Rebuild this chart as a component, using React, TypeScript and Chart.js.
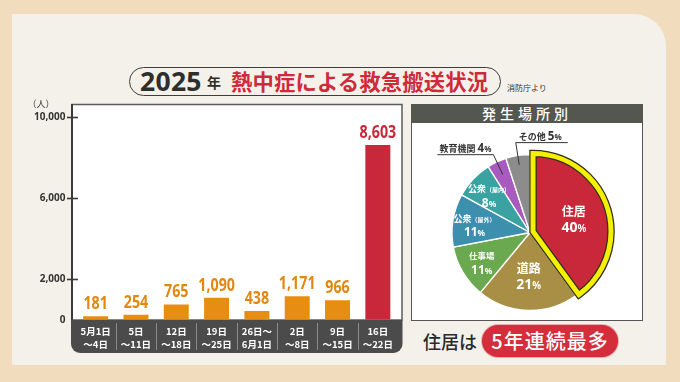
import React, { useEffect, useRef } from 'react';
import { Chart, registerables } from 'chart.js';

Chart.register(...registerables);

const JP = '"Noto Sans CJK JP", "Noto Sans", sans-serif';
const NUM = '"Noto Sans", "Noto Sans CJK JP", sans-serif';

// ---- data ----
const weekLabels: string[][] = [
  ['5月1日', '～4日'],
  ['5日', '～11日'],
  ['12日', '～18日'],
  ['19日', '～25日'],
  ['26日～', '6月1日'],
  ['2日', '～8日'],
  ['9日', '～15日'],
  ['16日', '～22日'],
];
const caseCounts = [181, 254, 765, 1090, 438, 1171, 966, 8603];
const yTickValues = [0, 2000, 6000, 10000];
const yMax = 10600;

const placeLabels = ['住居', '道路', '仕事場', '公衆(屋外)', '公衆(屋内)', '教育機関', 'その他'];
const placeShares = [40, 21, 11, 11, 8, 4, 5];

// ---- styles ----
const ORANGE = '#e78e12';
const ORANGE_TXT = '#e2870f';
const RED = '#c9283b';
const RED_TXT = '#c8283a';
const PIE_COLORS = ['#c9283b', '#a88f45', '#6aa94f', '#3d8fae', '#3aa3a2', '#a85bbf', '#8c8c8c'];

const fmt = (v: number) => String(v).replace(/\B(?=(\d{3})+(?!\d))/g, ',');

function drawRich(ctx: CanvasRenderingContext2D, parts: [string, number, string][], cx: number, y: number, align: 'center' | 'left' | 'right' = 'center') {
  let total = 0;
  const widths = parts.map(([t, s, f]) => {
    ctx.font = `bold ${s}px ${f}`;
    const w = ctx.measureText(t).width;
    total += w;
    return w;
  });
  let x = align === 'center' ? cx - total / 2 : align === 'right' ? cx - total : cx;
  ctx.textAlign = 'left';
  ctx.textBaseline = 'alphabetic';
  parts.forEach(([t, s, f], i) => {
    ctx.font = `bold ${s}px ${f}`;
    ctx.fillText(t, x, y);
    x += widths[i];
  });
}

const barDeco = {
  id: 'barDeco',
  beforeDraw(chart: any) {
    const { ctx, chartArea: a, scales } = chart;
    const x = scales.x;
    const L = a.left - 3.5;
    const R = a.right + 4;
    ctx.save();
    ctx.fillStyle = '#ffffff';
    ctx.fillRect(L, a.top, R - L, a.bottom - a.top);
    ctx.strokeStyle = '#5c5c5c';
    ctx.lineWidth = 1.5;
    ctx.strokeRect(L, a.top, R - L, a.bottom - a.top);
    // label band
    const bt = a.bottom;
    const bb = a.bottom + 33;
    const r = 9;
    ctx.fillStyle = '#4b4b4b';
    ctx.beginPath();
    ctx.moveTo(L - 1, bt);
    ctx.lineTo(R + 0.5, bt);
    ctx.lineTo(R + 0.5, bb - r);
    ctx.arcTo(R + 0.5, bb, R + 0.5 - r, bb, r);
    ctx.lineTo(L - 1 + r, bb);
    ctx.arcTo(L - 1, bb, L - 1, bb - r, r);
    ctx.closePath();
    ctx.fill();
    ctx.strokeStyle = '#8a8a8a';
    ctx.lineWidth = 1;
    for (let i = 0; i < caseCounts.length - 1; i++) {
      const sx = Math.round((x.getPixelForValue(i) + x.getPixelForValue(i + 1)) / 2) + 0.5;
      ctx.beginPath();
      ctx.moveTo(sx, bt + 3);
      ctx.lineTo(sx, bb - 3);
      ctx.stroke();
    }
    ctx.restore();
  },
  afterDatasetsDraw(chart: any) {
    const { ctx, chartArea: a, scales } = chart;
    const y = scales.y;
    const L = a.left - 3.5;
    ctx.save();
    // axis line
    ctx.strokeStyle = '#3a3a3a';
    ctx.lineWidth = 2;
    ctx.beginPath();
    ctx.moveTo(L, a.top - 0.5);
    ctx.lineTo(L, a.bottom);
    ctx.stroke();
    // tick marks crossing the axis
    ctx.lineWidth = 1.6;
    yTickValues.forEach((v) => {
      if (v === 0) return;
      const py = Math.round(y.getPixelForValue(v)) + 0.5;
      ctx.beginPath();
      ctx.moveTo(L - 5, py);
      ctx.lineTo(L + 6, py);
      ctx.stroke();
    });
    // unit
    ctx.fillStyle = '#333';
    ctx.font = `9px ${JP}`;
    ctx.textAlign = 'center';
    ctx.textBaseline = 'middle';
    ctx.fillText('（人）', L - 31, y.getPixelForValue(10000) - 13);
    // value labels
    const meta = chart.getDatasetMeta(0);
    const last = caseCounts.length - 1;
    meta.data.forEach((bar: any, i: number) => {
      ctx.save();
      ctx.fillStyle = i === last ? RED_TXT : ORANGE_TXT;
      ctx.font = `bold 17px ${NUM}`;
      ctx.textAlign = 'center';
      ctx.textBaseline = 'alphabetic';
      ctx.translate(bar.x, bar.y - 7);
      ctx.scale(0.84, 1);
      ctx.fillText(fmt(caseCounts[i]), 0, 0);
      ctx.restore();
    });
    ctx.restore();
  },
};

const RED_OFFSET = 9;

const pieDeco = {
  id: 'pieDeco',
  afterDatasetsDraw(chart: any) {
    const { ctx } = chart;
    const meta = chart.getDatasetMeta(0);
    const arcs = meta.data;
    ctx.save();
    // highlighted slice outline
    const p0 = arcs[0].getProps(['x', 'y', 'startAngle', 'endAngle', 'outerRadius'], true);
    const mid0 = (p0.startAngle + p0.endAngle) / 2;
    const fix = 1 - Math.sin(Math.min(Math.PI, p0.endAngle - p0.startAngle));
    const t = (RED_OFFSET / 4) * (1 + fix);
    const ox = Math.cos(mid0) * t;
    const oy = Math.sin(mid0) * t;
    ctx.beginPath();
    ctx.moveTo(p0.x + ox, p0.y + oy);
    ctx.arc(p0.x + ox, p0.y + oy, p0.outerRadius, p0.startAngle, p0.endAngle);
    ctx.closePath();
    ctx.lineJoin = 'miter';
    ctx.strokeStyle = '#2f2f1c';
    ctx.lineWidth = 7.5;
    ctx.stroke();
    ctx.strokeStyle = '#f5ef00';
    ctx.lineWidth = 5;
    ctx.stroke();

    // labels
    arcs.forEach((arc: any, i: number) => {
      const p = arc.getProps(['x', 'y', 'startAngle', 'endAngle', 'outerRadius'], true);
      const mid = (p.startAngle + p.endAngle) / 2;
      const R = p.outerRadius;
      const share = placeShares[i];
      const label = placeLabels[i];
      const m = label.match(/^(.*?)(\(.*\))?$/) as RegExpMatchArray;
      const main = m[1];
      const sub = m[2] || '';
      if (share >= 6) {
        const big = share >= 20;
        const rr = R * (big ? 0.55 : 0.72);
        let cx = p.x + Math.cos(mid) * rr;
        let cy = p.y + Math.sin(mid) * rr;
        if (i === 0) { cx += ox; cy += oy; }
        ctx.fillStyle = '#ffffff';
        const nameSize = big ? 12 : sub ? 9 : 8.5;
        const nameParts: [string, number, string][] = [[main, nameSize, JP]];
        if (sub) nameParts.push([sub.replace('(', '（').replace(')', '）'), 6, JP]);
        drawRich(ctx, nameParts, cx, cy - 2);
        const numSize = big ? 14 : 12;
        drawRich(ctx, [[String(share), numSize, NUM], ['%', numSize * 0.7, NUM]], cx, cy + (big ? 14 : 12.5));
      } else {
        ctx.strokeStyle = '#333';
        ctx.fillStyle = '#333';
        ctx.lineWidth = 1;
        const left = Math.cos(mid) < -0.3;
        const r1 = R * (left ? 0.82 : 0.88);
        const r2 = R + (left ? 8 : 13);
        const x1 = p.x + Math.cos(mid) * r1;
        const y1 = p.y + Math.sin(mid) * r1;
        const x2 = p.x + Math.cos(mid) * r2;
        const y2 = p.y + Math.sin(mid) * r2;
        const len = left ? 56 : 52;
        const x3 = left ? x2 - len : x2 + len;
        ctx.beginPath();
        ctx.moveTo(x1, y1);
        ctx.lineTo(x2, y2);
        ctx.lineTo(x3, y2);
        ctx.stroke();
        const parts: [string, number, string][] = [[main + ' ', 9, JP], [String(share), 11.5, NUM], ['%', 8, NUM]];
        if (left) drawRich(ctx, parts, x2 - 2, y2 - 3, 'right');
        else drawRich(ctx, parts, x2 + 3, y2 - 3, 'left');
      }
    });
    ctx.restore();
  },
};

export default function App() {
  const barRef = useRef<HTMLCanvasElement>(null);
  const pieRef = useRef<HTMLCanvasElement>(null);

  useEffect(() => {
    const last = caseCounts.length - 1;
    const bar = new Chart(barRef.current as HTMLCanvasElement, {
      type: 'bar',
      data: {
        labels: weekLabels,
        datasets: [
          {
            data: caseCounts,
            backgroundColor: caseCounts.map((_, i) => (i === last ? RED : ORANGE)),
            barPercentage: 0.62,
            categoryPercentage: 1,
          },
        ],
      },
      options: {
        animation: false,
        responsive: false,
        maintainAspectRatio: false,
        layout: { padding: { top: 8.5, right: 12, bottom: 7, left: 0 } },
        plugins: { legend: { display: false }, tooltip: { enabled: false } },
        scales: {
          x: {
            grid: { display: false, drawTicks: false },
            border: { display: false },
            ticks: {
              color: '#ffffff',
              font: { family: JP, size: 9.5, weight: 'bold', lineHeight: 1.38 },
              padding: 5,
              maxRotation: 0,
              minRotation: 0,
              autoSkip: false,
            },
            afterFit: (s: any) => { s.height = 33; },
          },
          y: {
            min: 0,
            max: yMax,
            grid: { display: true, drawOnChartArea: false, drawTicks: true, tickLength: 8, color: 'rgba(0,0,0,0)' },
            border: { display: false },
            ticks: {
              color: '#333333',
              font: { family: NUM, size: 10, weight: 'bold' },
              padding: 2,
              callback: (v: any) => fmt(Number(v)),
            },
            afterBuildTicks: (s: any) => { s.ticks = yTickValues.map((v) => ({ value: v })); },
            afterFit: (s: any) => { s.width = 75.5; },
          },
        },
      } as any,
      plugins: [barDeco],
    });

    const pie = new Chart(pieRef.current as HTMLCanvasElement, {
      type: 'pie',
      data: {
        labels: placeLabels,
        datasets: [
          {
            data: placeShares,
            backgroundColor: PIE_COLORS,
            borderColor: placeShares.map((_, i) => (i === 0 ? 'rgba(0,0,0,0)' : '#ffffff')),
            borderWidth: placeShares.map((_, i) => (i === 0 ? 0 : 1.3)),
            offset: placeShares.map((_, i) => (i === 0 ? RED_OFFSET : 0)),
            hoverOffset: 0,
            radius: 78,
            clip: false,
          } as any,
        ],
      },
      options: {
        animation: false,
        responsive: false,
        maintainAspectRatio: false,
        layout: { padding: { top: 23 } },
        plugins: { legend: { display: false }, tooltip: { enabled: false } },
      } as any,
      plugins: [pieDeco],
    });

    return () => {
      bar.destroy();
      pie.destroy();
    };
  }, []);

  return (
    <div style={{ position: 'absolute', left: 0, top: 0, width: 680, height: 382, background: '#f1dcbd', overflow: 'hidden', fontFamily: JP }}>
      <div style={{ position: 'absolute', left: 12, top: 14, width: 654, height: 351, background: '#f3f1e9', borderTopRightRadius: 32 }} />
      {/* title */}
      <div style={{ position: 'absolute', left: 129, top: 67, width: 372, height: 29, border: '1.5px solid #3d3d3d', borderRadius: 15, boxSizing: 'border-box' }} />
      <div style={{ position: 'absolute', left: 140, top: 63, fontFamily: NUM, fontWeight: 700, fontSize: 26.5, color: '#2e2e2e', lineHeight: '36px', letterSpacing: 0.3 }}>2025</div>
      <div style={{ position: 'absolute', left: 207, top: 72, fontWeight: 700, fontSize: 14, color: '#2e2e2e', lineHeight: '20px' }}>年</div>
      <div style={{ position: 'absolute', left: 231, top: 66, fontWeight: 700, fontSize: 21.3, color: '#cf2a3a', lineHeight: '30px', letterSpacing: 0.2 }}>熱中症による救急搬送状況</div>
      <div style={{ position: 'absolute', left: 507, top: 83, fontSize: 8, color: '#333', lineHeight: '10px' }}>消防庁より</div>

      {/* bar chart */}
      <canvas ref={barRef} width={410} height={264} style={{ position: 'absolute', left: 0, top: 96, width: 410, height: 264 }} />

      {/* right panel */}
      <div style={{ position: 'absolute', left: 411, top: 104, width: 232, height: 217, background: '#ffffff', border: '1.5px solid #555', boxSizing: 'border-box' }} />
      <div style={{ position: 'absolute', left: 411, top: 104, width: 232, height: 19, background: '#54574f', color: '#fff', fontSize: 14, lineHeight: '19px', textAlign: 'center', letterSpacing: 4, fontWeight: 500 }}>発生場所別</div>
      <canvas ref={pieRef} width={238} height={196} style={{ position: 'absolute', left: 411, top: 123, width: 238, height: 196 }} />

      {/* bottom note */}
      <div style={{ position: 'absolute', left: 423, top: 328, fontSize: 18, color: '#2a2a2a', lineHeight: '26px', fontWeight: 500 }}>住居は</div>
      <div style={{ position: 'absolute', left: 482, top: 325, width: 136, height: 32, borderRadius: 16, background: '#d42d3c', border: '2px dotted #d42d3c', boxSizing: 'border-box', boxShadow: '0 0 0 1px #d42d3c55', color: '#fff', fontSize: 20, lineHeight: '28px', textAlign: 'center', letterSpacing: 1, fontWeight: 500 }}>5年連続最多</div>
    </div>
  );
}
